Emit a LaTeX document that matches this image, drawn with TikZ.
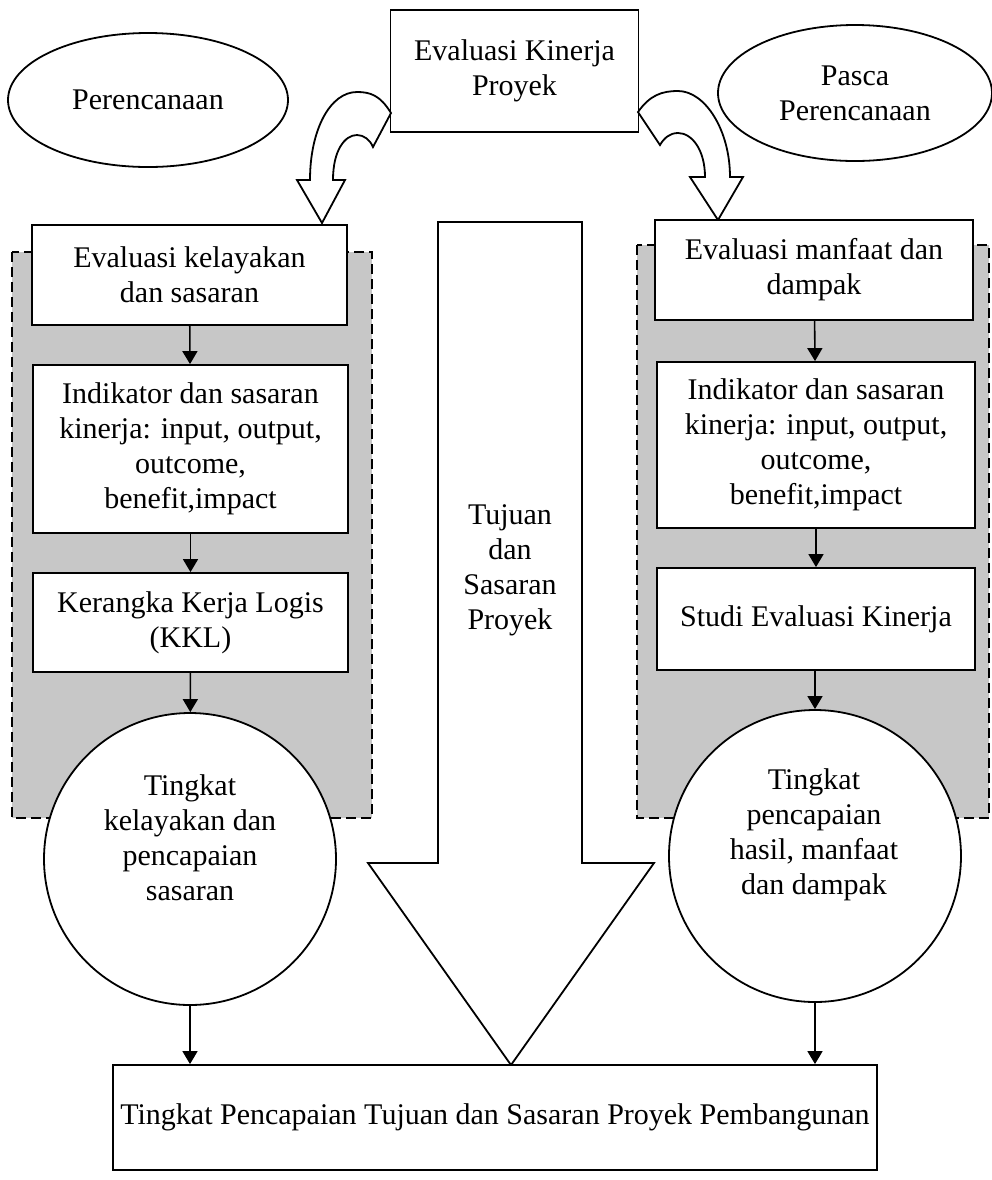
\documentclass[tikz,border=0pt]{standalone}
\usepackage{fontspec}
\setmainfont{Liberation Serif}
\usetikzlibrary{arrows.meta,shapes.geometric}

\tikzset{
  txt/.style={font=\fontsize{15pt}{17.5pt}\selectfont, align=center},
  stepbox/.style={txt, draw, line width=0.9pt, fill=white, inner sep=2pt},
  oval/.style={txt, draw, ellipse, line width=0.9pt, fill=white, inner sep=0pt},
  disc/.style={draw, circle, line width=0.9pt, fill=white, inner sep=0pt},
  zone/.style={draw, dashed, dash pattern=on 5pt off 2.5pt, line width=1.3pt, fill=black!22},
  link/.style={draw, line width=0.8pt, -{Triangle[length=6.5pt,width=7.5pt]}},
  blockarrow/.style={draw, line width=0.9pt, fill=white, line join=miter}
}

\begin{document}
\begin{tikzpicture}[x=0.5pt,y=-0.5pt]
\useasboundingbox (0,0) rectangle (992,1180);

% shaded planning zones
\path[zone] (12,252) rectangle (372,818);
\path[zone] (637,245) rectangle (989,818);

% top box and phase ellipses
\node[stepbox, minimum width=124pt, minimum height=61pt] (top) at (514.5,71) {Evaluasi Kinerja\\Proyek};
\node[oval, minimum width=140pt, minimum height=67pt] (plan) at (148,100) {Perencanaan};
\node[oval, minimum width=137pt, minimum height=68pt] (post) at (855,93) {Pasca\\Perencanaan};

% curved block arrows from the top box
\draw[blockarrow] (391,113) .. controls (380,95) and (370,92) .. (357,92)
  .. controls (330,92) and (310,130) .. (310,180)
  -- (297,180) -- (322,223) -- (345,180) -- (333,180)
  .. controls (333,150) and (345,135) .. (357,135)
  .. controls (364,135) and (370,140) .. (373,147) -- cycle;
\draw[blockarrow] (638,112) .. controls (650,95) and (662,91) .. (678,91)
  .. controls (705,91) and (730,130) .. (730,177)
  -- (743,177) -- (718,220) -- (690,177) -- (705,177)
  .. controls (705,150) and (692,133) .. (678,133)
  .. controls (670,133) and (664,138) .. (660,145) -- cycle;

% central goal arrow
\draw[blockarrow] (438,222) -- (582,222) -- (582,863) -- (654,863)
  -- (511,1065) -- (368,863) -- (438,863) -- cycle;
\node[txt] (goal) at (510,570) {Tujuan\\dan\\Sasaran\\Proyek};

% left column
\node[stepbox, minimum width=157.5pt, minimum height=50pt] (l1) at (189.5,275) {Evaluasi kelayakan\\dan sasaran};
\node[stepbox, minimum width=157.5pt, minimum height=84pt] (l2) at (190.5,449) {Indikator dan sasaran\\kinerja: input, output,\\outcome,\\benefit,impact};
\node[stepbox, minimum width=157.5pt, minimum height=49.5pt] (l3) at (190.5,622.5) {Kerangka Kerja Logis\\(KKL)};
\node[disc, minimum size=146pt] (l4) at (190,859) {};
\node[txt] (l4t) at (190,838) {Tingkat\\kelayakan dan\\pencapaian\\sasaran};

% right column
\node[stepbox, minimum width=159pt, minimum height=50pt] (r1) at (814,270) {Evaluasi manfaat dan\\dampak};
\node[stepbox, minimum width=159pt, minimum height=83pt] (r2) at (816,445) {Indikator dan sasaran\\kinerja: input, output,\\outcome,\\benefit,impact};
\node[stepbox, minimum width=159pt, minimum height=51pt] (r3) at (816,619) {Studi Evaluasi Kinerja};
\node[disc, minimum size=146pt] (r4) at (815,856) {};
\node[txt] (r4t) at (814,835) {Tingkat\\pencapaian\\hasil, manfaat\\dan dampak};

% result box
\node[stepbox, minimum width=382pt, minimum height=52.5pt] (res) at (495,1117.5) {Tingkat Pencapaian Tujuan dan Sasaran Proyek Pembangunan};

% flow connectors
\draw[link] (l1) -- (l2);
\draw[link] (l2) -- (l3);
\draw[link] (l3) -- (l4);
\draw[link] (l4.south) -- (l4.south |- res.north);
\draw[link] (r1) -- (r2);
\draw[link] (r2) -- (r3);
\draw[link] (r3.south -| r4) -- (r4);
\draw[link] (r4.south) -- (r4.south |- res.north);
\end{tikzpicture}
\end{document}
